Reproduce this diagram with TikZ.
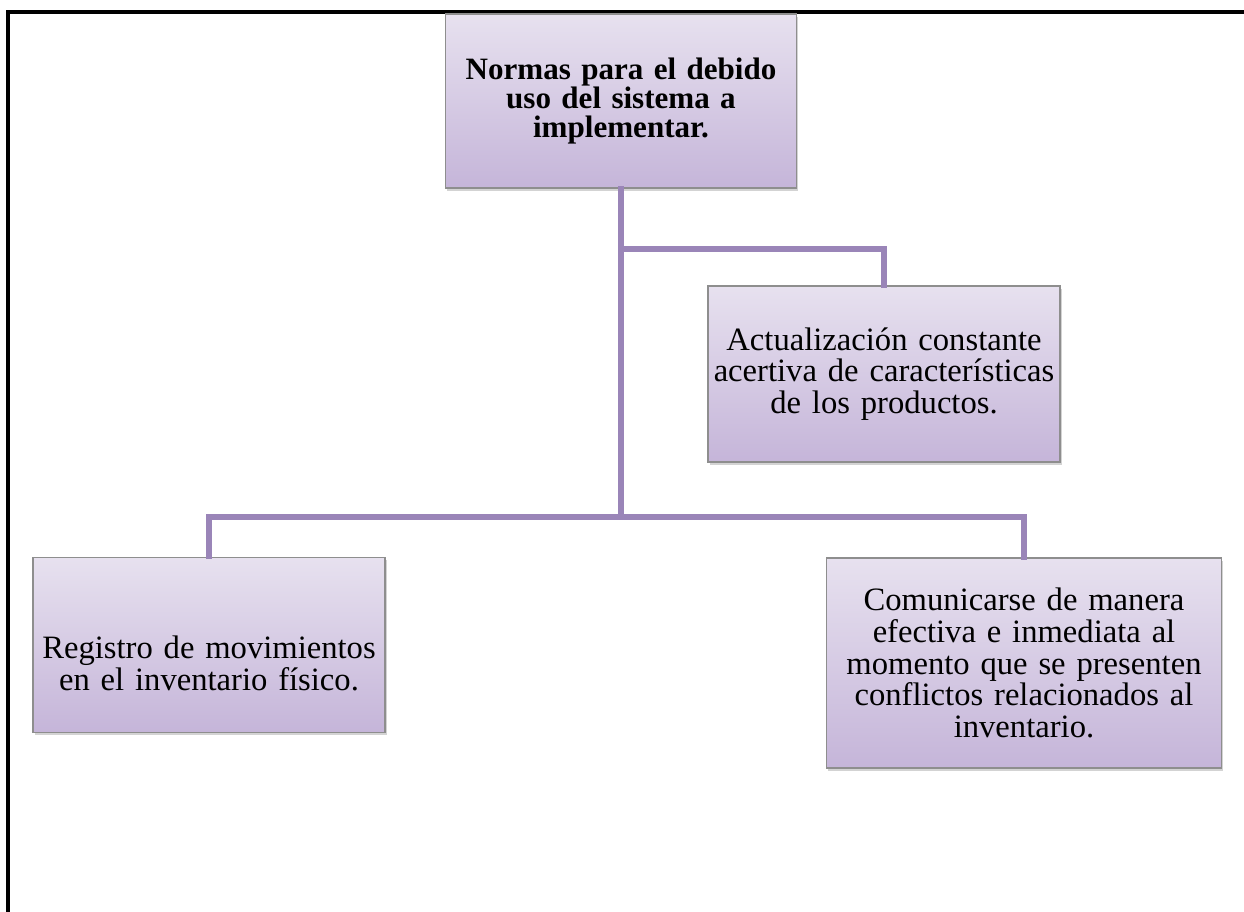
\documentclass[tikz,border=0pt]{standalone}
\usepackage{fontspec}
\setmainfont{Liberation Serif}
\usepackage{tikz}
\usetikzlibrary{positioning, shadows}
\definecolor{boxtop}{HTML}{E7E1EF}
\definecolor{boxbottom}{HTML}{C5B5D9}
\definecolor{boxedge}{HTML}{8E8E8E}
\definecolor{linkpurple}{HTML}{9A85B8}
\tikzset{
    normbox/.style = {rectangle, inner sep=0pt, align=center,
        draw=boxedge, line width=0.9pt, top color=boxtop, bottom color=boxbottom,
        drop shadow={shadow xshift=1.2pt, shadow yshift=-2pt, opacity=0.35},
        font=\fontsize{23.2}{22.6}\selectfont},
    titlebox/.style = {normbox, font=\fontsize{22.1}{20.6}\selectfont\bfseries},
    link/.style = {draw=linkpurple, line width=3.6pt, line cap=rect},
}

\begin{document}
\begin{tikzpicture}[x=0.025cm, y=-0.025cm]
            \useasboundingbox (0,0) rectangle (1244,912);
            % page frame
            \draw[line width=2.2pt] (8,912) -- (8,12) -- (1244,12);
            % boxes
            \node (norms) [titlebox, text width=351*0.025cm, minimum height=174*0.025cm] at (621,101)
                {Normas para el debido\\ uso del sistema a\\ implementar.};
            \node (update) [normbox, text width=352*0.025cm, minimum height=176*0.025cm] at (884,374)
                {Actualización constante\\ acertiva de características\\ de los productos.};
            \node (record) [normbox, text width=352*0.025cm, minimum height=175*0.025cm] at (209,645)
                {\rule{0pt}{1.5cm}Registro de movimientos\\ en el inventario físico.};
            \node (talk) [normbox, text width=395*0.025cm, minimum height=210*0.025cm] at (1024,663)
                {Comunicarse de manera\\ efectiva e inmediata al\\ momento que se presenten\\ conflictos relacionados al\\ inventario.};
            % connectors
            \coordinate (upj) at (621,249);
            \coordinate (lowj) at (621,517);
            \draw[link] (norms.south) -- (lowj);
            \draw[link] (upj) -| (update.north);
            \draw[link] (lowj) -| (record.north);
            \draw[link] (lowj) -| (talk.north);
\end{tikzpicture}
\end{document}
